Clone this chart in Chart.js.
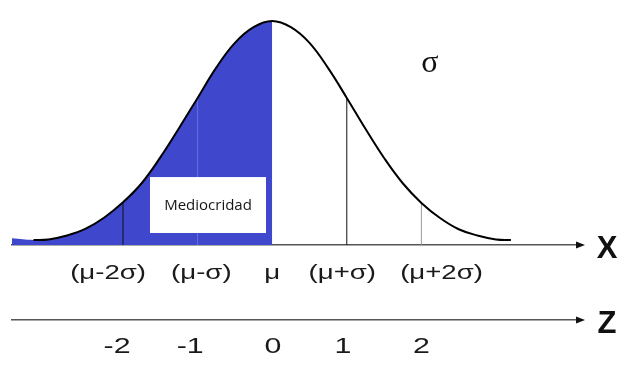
<!DOCTYPE html>
<html><head><meta charset="utf-8">
<script src="https://cdn.jsdelivr.net/npm/chart.js@4/dist/chart.umd.min.js"></script>
<style>html,body{margin:0;padding:0;background:#fff;overflow:hidden}</style>
</head><body>
<canvas id="c" width="640" height="372"></canvas>
<script>
// Standardised value z and the height of the bell curve
const zValues = [-3.2,-3.0,-2.75,-2.5,-2.25,-2.0,-1.75,-1.5,-1.25,-1.0,-0.75,-0.5,-0.25,0,0.25,0.5,0.75,1.0,1.25,1.5,1.75,2.0,2.25,2.5,2.75,3.0,3.2];
const density = [0.009,0.010,0.017,0.029,0.049,0.076,0.110,0.156,0.208,0.262,0.316,0.360,0.388,0.399,0.388,0.360,0.315,0.262,0.207,0.155,0.110,0.075,0.048,0.028,0.017,0.010,0.009];
// Shaded left half ("Mediocridad"): starts at the far-left tail, ends at the mean
const shadeStartZ = -3.49;
const shadeStartDensity = 0.012;
const shadeEndZ = 0;
// Vertical marker lines under the curve
const markerZ = [-2, -1, 1, 2];
const markerHeight = [0.076, 0.262, 0.262, 0.075];
const markerColor = ['#111111', 'rgba(255,255,255,0.22)', '#111111', '#9a9a9a'];
// Axis labels and where they sit along the axis
const xLabelAt = [-2.2, -0.95, 0, 0.94, 2.27];
const xTickLabels = ['(μ-2σ)', '(μ-σ)', 'μ', '(μ+σ)', '(μ+2σ)'];
const zLabelAt = [-2.08, -1.1, 0.01, 0.95, 2.0];
const zTickLabels = ['-2', '-1', '0', '1', '2'];
const xAxisName = 'X';
const zAxisName = 'Z';
const sigmaText = 'σ';
const sigmaAt = {z: 2.115, d: 0.308};
const boxText = 'Mediocridad';
const boxArea = {z0: -1.638, z1: -0.083, d0: 0.0214, d1: 0.121};

const curve = zValues.map((z, i) => ({x: z, y: density[i]}));
const shade = [{x: shadeStartZ, y: shadeStartDensity}].concat(curve.filter(p => p.x <= shadeEndZ));

const datasets = [];
datasets.push({label: 'curve', data: curve, borderColor: '#000', borderWidth: 2, pointRadius: 0,
  tension: 0.4, fill: false, order: 0});
markerZ.forEach((z, i) => datasets.push({label: 'm' + i, data: [{x: z, y: 0}, {x: z, y: markerHeight[i]}],
  borderColor: markerColor[i], borderWidth: 1, pointRadius: 0, fill: false, order: 1}));
datasets.push({label: 'shade', data: shade, borderWidth: 0, borderColor: 'rgba(0,0,0,0)', pointRadius: 0,
  tension: 0.4, fill: 'origin', backgroundColor: '#3f48cc', order: 2});

function stretchedText(ctx, text, cx, baseY, sx) {
  ctx.save();
  ctx.translate(cx, baseY);
  ctx.scale(sx, 1);
  ctx.fillText(text, 0, 0);
  ctx.restore();
}

const annot = {
  id: 'annot',
  afterDatasetsDraw(chart) {
    const {ctx, scales: {x, y}} = chart;
    ctx.save();
    const l = x.getPixelForValue(boxArea.z0), r = x.getPixelForValue(boxArea.z1);
    const t = y.getPixelForValue(boxArea.d1), b = y.getPixelForValue(boxArea.d0);
    ctx.fillStyle = '#fff';
    ctx.fillRect(l, t, r - l, b - t);
    ctx.fillStyle = '#161616';
    ctx.font = '15px "Open Sans"';
    ctx.textAlign = 'center'; ctx.textBaseline = 'middle';
    ctx.fillText(boxText, (l + r) / 2, (t + b) / 2 + 1);
    ctx.restore();
  },
  afterDraw(chart) {
    const {ctx, scales: {x, x2, y}} = chart;
    ctx.save();
    ctx.fillStyle = '#111';
    [[x, xAxisName], [x2, zAxisName]].forEach(([s, name]) => {
      const yy = s.top, xr = s.right;
      ctx.beginPath();
      ctx.moveTo(xr + 3, yy);
      ctx.lineTo(xr - 6, yy - 3.5);
      ctx.lineTo(xr - 6, yy + 3.5);
      ctx.closePath();
      ctx.fill();
      ctx.font = 'bold 31px "Liberation Sans"';
      ctx.textAlign = 'center'; ctx.textBaseline = 'middle';
      ctx.fillText(name, xr + 25, yy + 4);
    });
    // tick labels of both axes (stretched sideways like the source artwork)
    ctx.fillStyle = '#1a1a1a';
    ctx.textAlign = 'center'; ctx.textBaseline = 'alphabetic';
    ctx.font = '20px "Liberation Sans"';
    xLabelAt.forEach((v, i) => stretchedText(ctx, xTickLabels[i], x.getPixelForValue(v), x.top + 34, 1.38));
    ctx.font = '22px "Liberation Sans"';
    zLabelAt.forEach((v, i) => stretchedText(ctx, zTickLabels[i], x2.getPixelForValue(v), x2.top + 33, 1.38));
    ctx.font = '32px "Liberation Serif"';
    ctx.fillStyle = '#111';
    ctx.fillText(sigmaText, x.getPixelForValue(sigmaAt.z), y.getPixelForValue(sigmaAt.d));
    ctx.restore();
  }
};

new Chart(document.getElementById('c'), {
  type: 'line',
  data: {datasets},
  plugins: [annot],
  options: {
    responsive: false, animation: false, events: [],
    layout: {padding: {left: 12, right: 58, top: 0, bottom: 0}},
    plugins: {legend: {display: false}, tooltip: {enabled: false}},
    scales: {
      y: {type: 'linear', display: false, min: 0, max: 0.4364},
      x: {type: 'linear', position: 'bottom', weight: 0, min: -3.488, max: 4.153,
        grid: {display: false}, border: {display: true, color: '#555', width: 1.5},
        ticks: {display: false},
        afterFit: (s) => { s.height = 75; }},
      x2: {type: 'linear', position: 'bottom', weight: 1, min: -3.488, max: 4.153,
        grid: {display: false}, border: {display: true, color: '#555', width: 1.5},
        ticks: {display: false},
        afterFit: (s) => { s.height = 52; }}
    }
  }
});
</script>
</body></html>
